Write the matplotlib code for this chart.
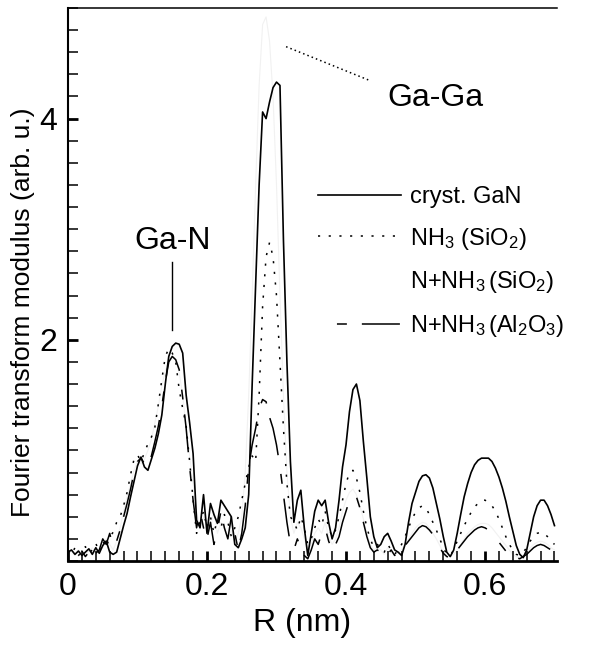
import numpy as np
import matplotlib
matplotlib.use("Agg")
import matplotlib.pyplot as plt
from matplotlib.ticker import MultipleLocator, FixedLocator

plt.rcParams['font.family'] = ['Liberation Sans', 'DejaVu Sans']
plt.rcParams['mathtext.fontset'] = 'custom'
plt.rcParams['mathtext.rm'] = 'Liberation Sans'
plt.rcParams['mathtext.it'] = 'Liberation Sans'
plt.rcParams['mathtext.bf'] = 'Liberation Sans'

# sampling positions (nm), 0.005 nm apart
r_nm = np.round(np.arange(0, 0.7001, 0.005), 3)

cryst_gan = [
    0.08, 0.10, 0.06, 0.09, 0.05, 0.08, 0.11, 0.06, 0.12, 0.07,
    0.14, 0.18, 0.08, 0.06, 0.08, 0.20, 0.32, 0.43, 0.58, 0.72,
    0.86, 0.94, 0.85, 0.82, 0.92, 1.02, 1.15, 1.32, 1.60, 1.85,
    1.94, 1.97, 1.96, 1.88, 1.50, 1.25, 0.97, 0.37, 0.30, 0.60,
    0.25, 0.52, 0.42, 0.34, 0.55, 0.50, 0.45, 0.40, 0.15, 0.12,
    0.20, 0.30, 0.60, 1.60, 2.50, 3.40, 4.06, 4.00, 4.15, 4.28,
    4.33, 4.30, 2.90, 1.80, 0.90, 0.35, 0.55, 0.64, 0.30, 0.05,
    0.25, 0.45, 0.55, 0.50, 0.55, 0.35, 0.20, 0.30, 0.55, 0.85,
    1.05, 1.35, 1.55, 1.60, 1.45, 1.08, 0.75, 0.40, 0.22, 0.12,
    0.15, 0.22, 0.25, 0.18, 0.10, 0.08, 0.05, 0.15, 0.35, 0.52,
    0.62, 0.72, 0.77, 0.78, 0.75, 0.66, 0.52, 0.38, 0.22, 0.08,
    0.04, 0.10, 0.25, 0.42, 0.58, 0.70, 0.80, 0.87, 0.91, 0.93,
    0.93, 0.93, 0.90, 0.84, 0.76, 0.66, 0.54, 0.40, 0.27, 0.14,
    0.06, 0.03, 0.10, 0.25, 0.40, 0.50, 0.55, 0.55, 0.50, 0.42,
    0.32,
]

nh3_sio2 = [
    0.10, 0.06, 0.12, 0.05, 0.08, 0.13, 0.07, 0.10, 0.16, 0.08,
    0.18, 0.12, 0.22, 0.26, 0.35, 0.40, 0.50, 0.62, 0.78, 0.92,
    0.96, 0.90, 0.98, 1.06, 1.12, 1.21, 1.42, 1.64, 1.85, 1.92,
    1.88, 1.80, 1.55, 1.38, 1.22, 0.90, 0.55, 0.25, 0.35, 0.45,
    0.30, 0.40, 0.25, 0.38, 0.30, 0.42, 0.35, 0.22, 0.30, 0.40,
    0.55, 0.70, 0.85, 0.95, 0.90, 1.50, 2.30, 2.75, 2.88, 2.75,
    2.40, 1.80, 1.20, 0.70, 0.40, 0.35, 0.28, 0.40, 0.30, 0.15,
    0.20, 0.30, 0.38, 0.32, 0.45, 0.30, 0.22, 0.28, 0.40, 0.55,
    0.70, 0.80, 0.82, 0.75, 0.62, 0.45, 0.30, 0.20, 0.12, 0.15,
    0.12, 0.08, 0.15, 0.10, 0.06, 0.10, 0.15, 0.22, 0.30, 0.38,
    0.44, 0.48, 0.50, 0.48, 0.42, 0.35, 0.28, 0.20, 0.12, 0.06,
    0.05, 0.10, 0.18, 0.25, 0.32, 0.38, 0.44, 0.49, 0.52, 0.55,
    0.55, 0.53, 0.50, 0.45, 0.38, 0.30, 0.22, 0.15, 0.10, 0.06,
    0.05, 0.08, 0.12, 0.18, 0.22, 0.25, 0.26, 0.25, 0.22, 0.18,
    0.15,
]

n_nh3_sio2 = [
    0.06, 0.09, 0.05, 0.10, 0.07, 0.05, 0.09, 0.12, 0.06, 0.10,
    0.12, 0.20, 0.15, 0.10, 0.18, 0.30, 0.45, 0.58, 0.70, 0.82,
    0.90, 0.88, 0.92, 1.00, 1.10, 1.25, 1.40, 1.58, 1.72, 1.80,
    1.84, 1.82, 1.70, 1.50, 1.20, 0.95, 0.70, 0.45, 0.30, 0.40,
    0.35, 0.30, 0.45, 0.25, 0.35, 0.30, 0.20, 0.28, 0.18, 0.25,
    0.40, 0.80, 1.50, 2.40, 3.40, 4.30, 4.85, 4.92, 4.70, 4.20,
    3.40, 2.40, 1.50, 0.80, 0.40, 0.25, 0.35, 0.30, 0.20, 0.10,
    0.15, 0.25, 0.30, 0.25, 0.35, 0.22, 0.15, 0.20, 0.30, 0.45,
    0.55, 0.62, 0.65, 0.60, 0.50, 0.38, 0.25, 0.15, 0.10, 0.12,
    0.10, 0.06, 0.12, 0.08, 0.05, 0.08, 0.10, 0.15, 0.20, 0.25,
    0.30, 0.33, 0.35, 0.34, 0.30, 0.25, 0.20, 0.14, 0.08, 0.05,
    0.04, 0.06, 0.10, 0.15, 0.20, 0.25, 0.28, 0.31, 0.33, 0.34,
    0.34, 0.33, 0.30, 0.26, 0.22, 0.18, 0.14, 0.10, 0.06, 0.04,
    0.03, 0.05, 0.08, 0.12, 0.15, 0.17, 0.18, 0.17, 0.15, 0.12,
    0.10,
]

n_nh3_al2o3 = [
    0.05, 0.08, 0.10, 0.06, 0.09, 0.04, 0.08, 0.12, 0.07, 0.10,
    0.20, 0.15, 0.25, 0.12, 0.18, 0.28, 0.40, 0.52, 0.65, 0.80,
    0.90, 0.93, 0.88, 0.86, 0.95, 1.08, 1.22, 1.40, 1.62, 1.80,
    1.85, 1.82, 1.73, 1.48, 1.20, 0.85, 0.55, 0.30, 0.45, 0.30,
    0.20, 0.35, 0.15, 0.28, 0.45, 0.30, 0.20, 0.40, 0.25, 0.10,
    0.25, 0.50, 0.85, 1.05, 1.20, 1.38, 1.46, 1.44, 1.30, 1.20,
    1.05, 0.85, 0.60, 0.35, 0.15, 0.10, 0.20, 0.12, 0.05, 0.02,
    0.10, 0.20, 0.15, 0.25, 0.30, 0.18, 0.10, 0.15, 0.22, 0.35,
    0.45, 0.55, 0.60, 0.58, 0.48, 0.35, 0.22, 0.12, 0.08, 0.10,
    0.08, 0.12, 0.06, 0.10, 0.05, 0.07, 0.10, 0.14, 0.18, 0.22,
    0.26, 0.30, 0.32, 0.31, 0.28, 0.24, 0.18, 0.12, 0.07, 0.04,
    0.03, 0.06, 0.10, 0.14, 0.18, 0.22, 0.25, 0.28, 0.30, 0.31,
    0.30, 0.28, 0.25, 0.21, 0.17, 0.13, 0.09, 0.06, 0.04, 0.03,
    0.02, 0.04, 0.06, 0.09, 0.12, 0.14, 0.15, 0.14, 0.12, 0.10,
    0.08,
]

labels = ['cryst. GaN', 'NH$_3$ (SiO$_2$)', r'N+NH$_3\,$(SiO$_2$)', r'N+NH$_3\,$(Al$_2$O$_3$)']

fig = plt.figure(figsize=(5.93, 6.51), dpi=100)
ax = fig.add_axes([68 / 593, 1 - 561 / 651, 489 / 593, 553 / 651])

ax.plot(r_nm, n_nh3_sio2, color='#f1f1f1', lw=0.8, label=labels[2], zorder=1)
ax.plot(r_nm, cryst_gan, color='black', lw=1.2, label=labels[0], zorder=3)
ax.plot(r_nm, nh3_sio2, color='black', lw=1.1, linestyle=(0, (1.4, 5.6)), label=labels[1], zorder=2)
ax.plot(r_nm, n_nh3_al2o3, color='black', lw=1.1,
        linestyle=(41.2, (6.5, 9.8, 24.9, 12.4)), label=labels[3], zorder=2)

ax.set_xlim(0, 0.7036)
ax.set_ylim(0, 5.0)

ax.xaxis.set_major_locator(FixedLocator([0, 0.2, 0.4, 0.6]))
ax.xaxis.set_minor_locator(MultipleLocator(0.02))
ax.set_xticklabels(['0', '0.2', '0.4', '0.6'])
ax.yaxis.set_major_locator(FixedLocator([2, 4]))
ax.yaxis.set_minor_locator(MultipleLocator(0.2))
ax.tick_params(which='both', direction='in', top=False, right=False, labelsize=23, pad=8)
ax.tick_params(which='major', length=7.5, width=2)
ax.tick_params(which='minor', length=7.5, width=1.1)

ax.spines['right'].set_visible(False)
ax.spines['left'].set_linewidth(1.5)
ax.spines['bottom'].set_linewidth(2.0)
ax.spines['top'].set_linewidth(1.1)

ax.set_xlabel('R (nm)', fontsize=23)
ax.xaxis.set_label_coords(0.478, -0.085)
ax.set_ylabel('Fourier transform modulus (arb. u.)', fontsize=19)
ax.yaxis.set_label_coords(-0.068, 0.45)

# peak labels
ax.text(0.15, 2.89, 'Ga-N', fontsize=23, ha='center', va='center')
ax.plot([0.15, 0.15], [2.09, 2.70], color='black', lw=1.0)
ax.text(0.528, 4.19, 'Ga-Ga', fontsize=23, ha='center', va='center')
ax.plot([0.432, 0.31], [4.35, 4.66], color='black', lw=1.1, linestyle=(0, (1, 2)))

handles, labs = ax.get_legend_handles_labels()
order = [1, 2, 0, 3]
leg = ax.legend([handles[i] for i in order], [labs[i] for i in order],
                loc='upper left', bbox_to_anchor=(318 / 593, 1 - 186 / 651),
                bbox_transform=fig.transFigure, frameon=False, fontsize=17,
                handlelength=3.5, handletextpad=0.4, labelspacing=0.75,
                borderpad=0, borderaxespad=0)
leg.get_lines()[2].set_visible(False)

fig.savefig('out.png', dpi=100)
